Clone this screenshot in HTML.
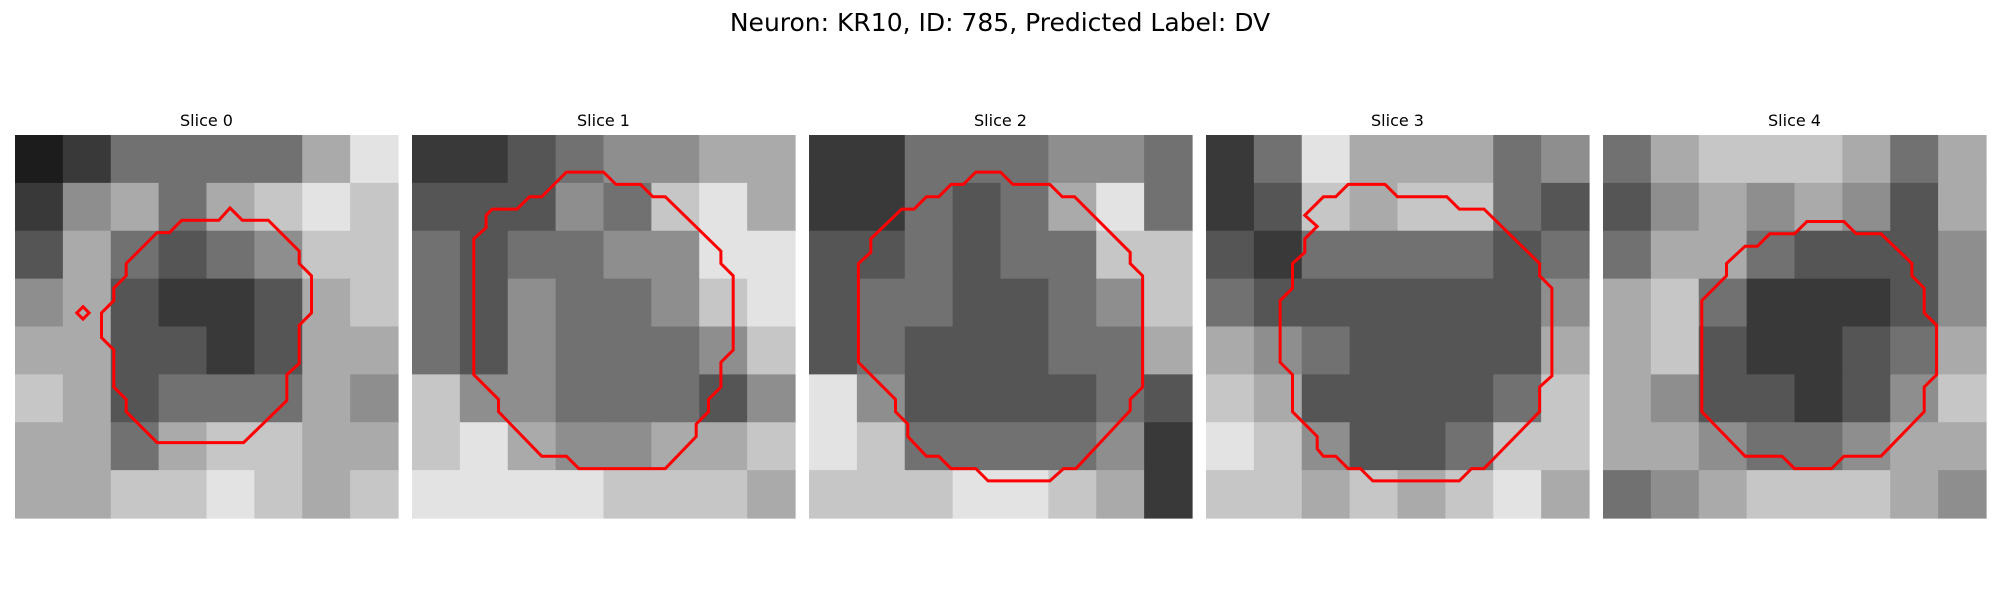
<!DOCTYPE html>
<html><head><meta charset="utf-8"><style>
html,body{margin:0;padding:0;background:#fff;}
svg{display:block;font-family:"DejaVu Sans","Liberation Sans",sans-serif;}
</style></head><body>
<svg id="fig" width="2000" height="600" viewBox="0 0 2000 600">
<text x="1000" y="31" text-anchor="middle" font-size="25" fill="#000">Neuron: KR10, ID: 785, Predicted Label: DV</text>
</svg>
<script>
const sliceTitles = ["Slice 0","Slice 1","Slice 2","Slice 3","Slice 4"];
const panelX = [15, 412, 809, 1206, 1603];
// coarse 8x8 brightness estimates (0 = black, 9 = white)
const slice0 = [[1,2,4,4,4,4,6,8],[2,5,6,4,6,7,8,7],[3,6,4,3,4,5,7,7],[5,6,3,2,2,3,6,7],[6,6,3,3,2,3,6,6],[7,6,3,4,4,4,6,5],[6,6,4,6,7,7,6,6],[6,6,7,7,8,7,6,7]];
const slice1 = [[2,2,3,4,5,5,6,6],[3,3,3,5,4,7,8,6],[4,3,4,4,5,5,8,8],[4,3,5,4,4,5,7,8],[4,3,5,4,4,4,5,7],[7,5,5,4,4,4,3,5],[7,8,6,5,5,6,6,7],[8,8,8,8,7,7,7,6]];
const slice2 = [[2,2,4,4,4,5,5,4],[2,2,4,3,4,6,8,4],[3,3,4,3,4,4,7,7],[3,4,4,3,3,4,5,7],[3,4,3,3,3,4,4,6],[8,5,3,3,3,3,4,3],[8,7,4,4,4,4,5,2],[7,7,7,8,8,7,6,2]];
const slice3 = [[2,4,8,6,6,6,4,5],[2,3,7,6,7,7,4,3],[3,2,4,4,4,4,3,4],[4,3,3,3,3,3,3,5],[6,5,4,3,3,3,3,6],[7,6,3,3,3,3,4,7],[8,7,5,3,3,4,7,7],[7,7,6,7,6,7,8,6]];
const slice4 = [[4,6,7,7,7,6,4,6],[3,5,6,5,6,5,3,6],[4,6,6,4,3,3,3,5],[6,7,4,2,2,2,3,5],[6,7,3,2,2,3,4,6],[6,5,3,3,2,3,5,7],[6,6,5,4,4,5,6,6],[4,5,6,7,7,7,6,5]];
// contours in image-pixel units (image is 31x31)
const contour0 = [[17.4,5.9],[18.4,6.9],[20.5,6.9],[23,9.4],[23,10.4],[24,11.4],[24,14.4],[23,15.4],[23,18.5],[22,19.4],[22,21.5],[18.5,24.9],[11.5,24.9],[9,22.4],[9,21.4],[8,20.4],[8,17.4],[7,16.4],[7,14.4],[8,13.4],[8,12.4],[9,11.4],[9,10.4],[11.5,7.9],[12.5,7.9],[13.5,6.9],[16.5,6.9]];
const contour0b = [[5.5,13.9],[6,14.4],[5.5,14.9],[5,14.4]];
const contour1 = [[12.5,3],[15.5,3],[16.5,4],[18.5,4],[19.5,5],[20.5,5],[25,9.4],[25,10.4],[26,11.4],[26,17.4],[25,18.4],[25,20.4],[24,21.4],[24,22.4],[23,23.4],[23,24.4],[20.5,27],[13.5,27],[12.5,26],[10.5,26],[7,22.4],[7,21.4],[5,19.4],[5,8.4],[6,7.5],[6,6.5],[6.5,6],[8.5,6],[9.5,5],[10.5,5]];
const contour2 = [[13.5,3],[15.5,3],[16.5,4],[19.5,4],[20.5,5],[21.5,5],[26,9.5],[26,10.4],[27,11.4],[27,20.4],[26,21.4],[26,22.3],[21.6,27],[20.6,27],[19.5,28],[14.5,28],[13.5,27],[11.5,27],[10.5,26],[9.5,26],[8,24.4],[8,23.4],[7,22.4],[7,21.4],[4,18.4],[4,10.4],[5,9.5],[5,8.4],[7.5,6],[8.5,6],[9.5,5],[10.5,5],[11.5,4],[12.5,4]];
const contour3 = [[11.5,4],[14.5,4],[15.5,5],[19.5,5],[20.5,6],[22.5,6],[27,10.4],[27,11.4],[28,12.4],[28,19.5],[27,20.4],[27,22.4],[22.5,27],[21.5,27],[20.5,28],[13.5,28],[12.5,27],[11.5,27],[10.5,26],[9.5,26],[9,25.4],[9,24.4],[7,22.4],[7,19.4],[6,18.4],[6,13.4],[7,12.4],[7,10.4],[8,9.5],[8,8.4],[9,7.4],[8,6.5],[9,5.5],[9.5,5],[10.5,5]];
const contour4 = [[16.5,7],[19.5,7],[20.5,8],[22.5,8],[25,10.4],[25,11.4],[26,12.4],[26,14.4],[27,15.4],[27,19.4],[26,20.4],[26,22.4],[22.5,26],[19.5,26],[18.5,27],[15.5,27],[14.5,26],[11.5,26],[8,22.4],[8,13.4],[10,11.4],[10,10.4],[11.5,9],[12.5,9],[13.5,8],[15.5,8]];

const NS = "http://www.w3.org/2000/svg";
const fig = document.getElementById("fig");
const grids = [slice0, slice1, slice2, slice3, slice4];
const contours = [[contour0, contour0b],[contour1],[contour2],[contour3],[contour4]];
const topY = 135, size = 383, npix = 31;
function px(u, x0){ return x0 + u * size / npix; }
function py(v){ return topY + v * size / npix; }
function gray(v){ const g = Math.round(v * 255 / 9); return `rgb(${g},${g},${g})`; }

for (let i = 0; i < 5; i++) {
  const x0 = panelX[i];
  const g = document.createElementNS(NS, "g");
  
  
  fig.appendChild(g);
  const t = document.createElementNS(NS, "text");
  
  
  t.setAttribute("x", x0 + size / 2);
  t.setAttribute("y", 126);
  t.setAttribute("text-anchor", "middle");
  t.setAttribute("font-size", "16");
  t.textContent = sliceTitles[i];
  g.appendChild(t);
  const grid = grids[i];
  const n = grid.length, cw = size / n;
  for (let r = 0; r < n; r++) for (let c = 0; c < n; c++) {
    const rect = document.createElementNS(NS, "rect");
    
    
    rect.setAttribute("x", (x0 + c * cw).toFixed(2));
    rect.setAttribute("y", (topY + r * cw).toFixed(2));
    rect.setAttribute("width", (cw + 0.6).toFixed(2));
    rect.setAttribute("height", (cw + 0.6).toFixed(2));
    rect.setAttribute("fill", gray(grid[r][c]));
    g.appendChild(rect);
  }
  for (const poly of contours[i]) {
    const p = document.createElementNS(NS, "polygon");
    
    
    p.setAttribute("points", poly.map(q => px(q[0], x0).toFixed(1) + "," + py(q[1]).toFixed(1)).join(" "));
    p.setAttribute("fill", "none");
    p.setAttribute("stroke", "#ff0000");
    p.setAttribute("stroke-width", "3");
    p.setAttribute("stroke-linejoin", "miter");
    g.appendChild(p);
  }
}
</script>
</body></html>
